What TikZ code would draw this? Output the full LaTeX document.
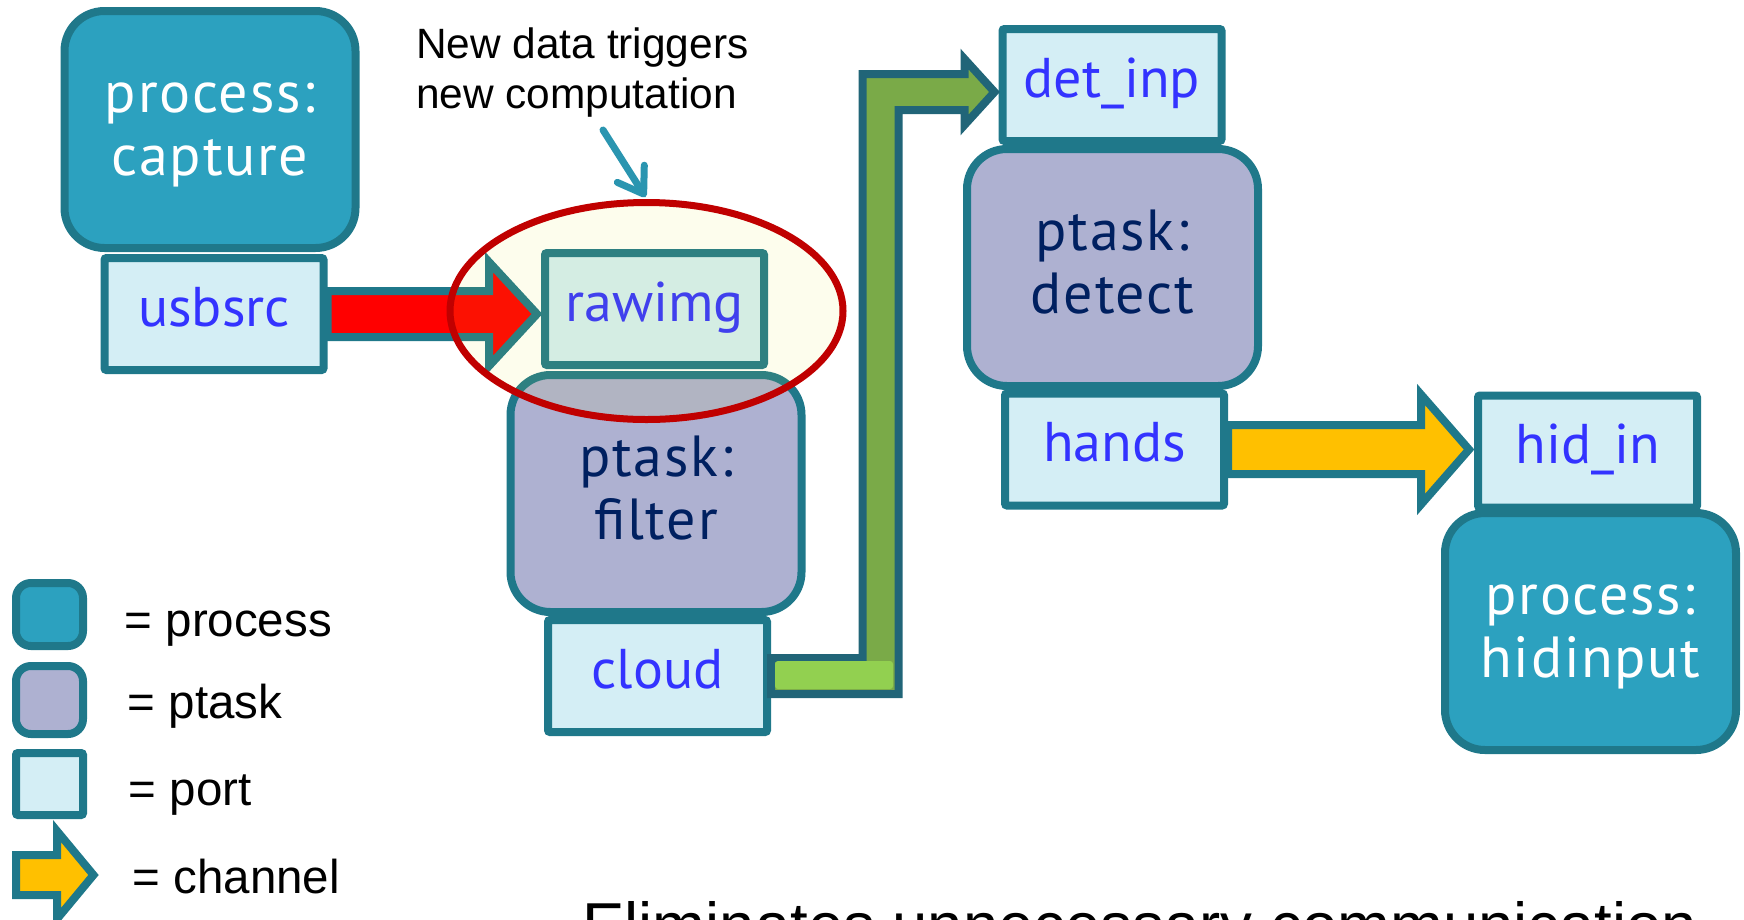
\documentclass[tikz,border=0pt]{standalone}
\usepackage{fontspec}
\setmainfont{Liberation Sans}
\newfontfamily\boxfont{PT Sans}
\newfontfamily\taskfont{PT Sans}[LetterSpace=3]
\usetikzlibrary{calc,arrows.meta,shapes.geometric}

\definecolor{edge}{RGB}{31,120,138}
\definecolor{procfill}{RGB}{44,161,191}
\definecolor{taskfill}{RGB}{174,177,209}
\definecolor{portfill}{RGB}{212,238,245}
\definecolor{porttext}{RGB}{51,51,255}
\definecolor{tasktext}{RGB}{0,32,96}
\definecolor{chanyellow}{RGB}{255,192,0}
\definecolor{chanred}{RGB}{255,0,0}
\definecolor{changreen}{RGB}{122,170,72}
\definecolor{chanlight}{RGB}{146,208,80}
\definecolor{greenedge}{RGB}{33,101,120}
\definecolor{ringred}{RGB}{192,0,0}
\definecolor{ringfill}{RGB}{224,226,28}
\definecolor{notearrow}{RGB}{42,149,176}

% straight fat channel arrow: style, tail, tip, shaft half width, head half width, head length
\newcommand\fatarrow[6]{%
  \draw[chan,#1] ($(#2)+(0,-#4)$) -- ($(#3)+(-#6,-#4)$) -- ($(#3)+(-#6,-#5)$) -- (#3)
    -- ($(#3)+(-#6,#5)$) -- ($(#3)+(-#6,#4)$) -- ($(#2)+(0,#4)$) -- cycle;}
% two-line label with fixed top and bottom struts
\newcommand\twolines[2]{\rule{0pt}{50pt}#1\\#2\rule[-21pt]{0pt}{21pt}}

\begin{document}
\begin{tikzpicture}[x=1pt,y=-1pt,
  box/.style={draw=edge, line width=8pt, inner sep=0pt, align=center},
  procbox/.style={box, fill=procfill, text=white, rounded corners=40pt,
    minimum width=291pt, minimum height=237pt, font=\taskfont\fontsize{58}{63}\selectfont},
  taskbox/.style={box, fill=taskfill, text=tasktext, rounded corners=40pt,
    minimum width=291pt, minimum height=237pt, font=\taskfont\fontsize{58}{63}\selectfont},
  portbox/.style={box, fill=portfill, text=porttext, rounded corners=2pt,
    minimum width=219pt, minimum height=112pt, text height=32pt, text depth=8pt,
    font=\boxfont\fontsize{56}{63}\selectfont},
  chan/.style={draw=edge, line width=8pt, line join=miter},
  legtext/.style={anchor=base west, inner sep=0pt, font=\fontsize{47.5}{57}\selectfont},
]
\useasboundingbox (0,0) rectangle (1744,919);
\clip (0,0) rectangle (1744,919);

% processes and ptasks
\node[procbox] (capture) at (210,129.5) {\twolines{process:}{capture}};
\node[taskbox] (filter) at (656,493.5) {\twolines{ptask:}{filter}};
\node[taskbox] (detect) at (1112.5,267.5) {\twolines{ptask:}{detect}};
\node[procbox] (hidinput) at (1590.5,631.5) {\twolines{process:}{hidinput}};

% ports
\node[portbox] (usbsrc) at (214,314) {usbsrc};
\node[portbox] (rawimg) at (654.5,309) {rawimg};
\node[portbox] (cloud) at (657.5,676) {cloud};
\node[portbox] (det_inp) at (1112,85) {det\_inp};
\node[portbox] (hands) at (1114.5,449.5) {hands};
\node[portbox] (hid_in) at (1587.5,451.5) {hid\_in};

% channel usbsrc -> rawimg
\coordinate (rtail) at (usbsrc.east);
\coordinate (rtip0) at (rawimg.west |- usbsrc.east);
\coordinate (rtip) at ($(rtip0)+(-4,0)$);
\fatarrow{fill=chanred}{rtail}{rtip}{23}{52}{48}

% channel hands -> hid_in
\coordinate (ytail) at (hands.east);
\coordinate (ytip0) at (hid_in.west |- hands.east);
\coordinate (ytip) at ($(ytip0)+(-5,0)$);
\fatarrow{fill=chanyellow}{ytail}{ytip}{24.5}{55}{48}

% channel cloud -> det_inp (bent)
\coordinate (gtail) at (cloud.east);
\coordinate (gtip) at ($(det_inp.west)+(-4,7)$);
\coordinate (gL) at (862.5,0);
\coordinate (gR) at (898.5,0);
\coordinate (g1) at ($(gtail)+(0,-18)$);
\coordinate (g2) at ($(gtail)+(0,18)$);
\coordinate (g3) at ($(gtip)+(-30,-18)$);
\coordinate (g4) at ($(gtip)+(-30,18)$);
\coordinate (g5) at ($(gtip)+(-30,-33)$);
\coordinate (g6) at ($(gtip)+(-30,33)$);
\draw[chan, draw=greenedge, fill=changreen]
  (g1) -- (g1 -| gL) -- (g3 -| gL) -- (g3) -- (g5) -- (gtip) -- (g6) -- (g4)
  -- (g4 -| gR) -- (g2 -| gR) -- (g2) -- cycle;
\fill[chanlight, rounded corners=3pt] ($(gtail)+(4,-15)$) rectangle ($(gtail)+(122,13)$);

% highlight ring around the triggering port
\node[draw=ringred, line width=7pt, fill=ringfill, fill opacity=0.08, ellipse,
  minimum width=393pt, minimum height=217pt, inner sep=0pt] (hilite) at (646.5,311) {};

% annotation
\node[anchor=north west, inner sep=0pt, align=left,
  font=\fontsize{42.4}{50}\selectfont] (note) at (416,27.5)
  {New data triggers\\new computation};
\coordinate (notefrom) at (603,130);
\draw[notearrow, line width=7pt, line cap=round,
  -{Straight Barb[length=24pt,width=32pt,round]}]
  (notefrom) -- ($(hilite.north)+(-1,-2)$);

% legend
\node[procbox, minimum width=67pt, minimum height=63pt, rounded corners=15pt] (legproc) at (49.5,614.5) {};
\node[taskbox, minimum width=67pt, minimum height=68pt, rounded corners=15pt] (legtask) at (49.5,700) {};
\node[portbox, minimum width=67pt, minimum height=62pt] (legport) at (49.5,784) {};
\coordinate (legA) at (16,875);
\coordinate (legB) at (93.5,875);
\fatarrow{fill=chanyellow}{legA}{legB}{20}{44}{36.5}
\node[legtext] (lt1) at (124.5,636) {= process};
\node[legtext] (lt2) at (127.5,718) {= ptask};
\node[legtext] (lt3) at (128.5,805) {= port};
\node[legtext] (lt4) at (132.5,893) {= channel};

% summary line
\node[anchor=base west, inner sep=0pt, font=\fontsize{63.5}{76}\selectfont] (summary)
  at (582,947.5) {Eliminates unnecessary communication};
\end{tikzpicture}
\end{document}
